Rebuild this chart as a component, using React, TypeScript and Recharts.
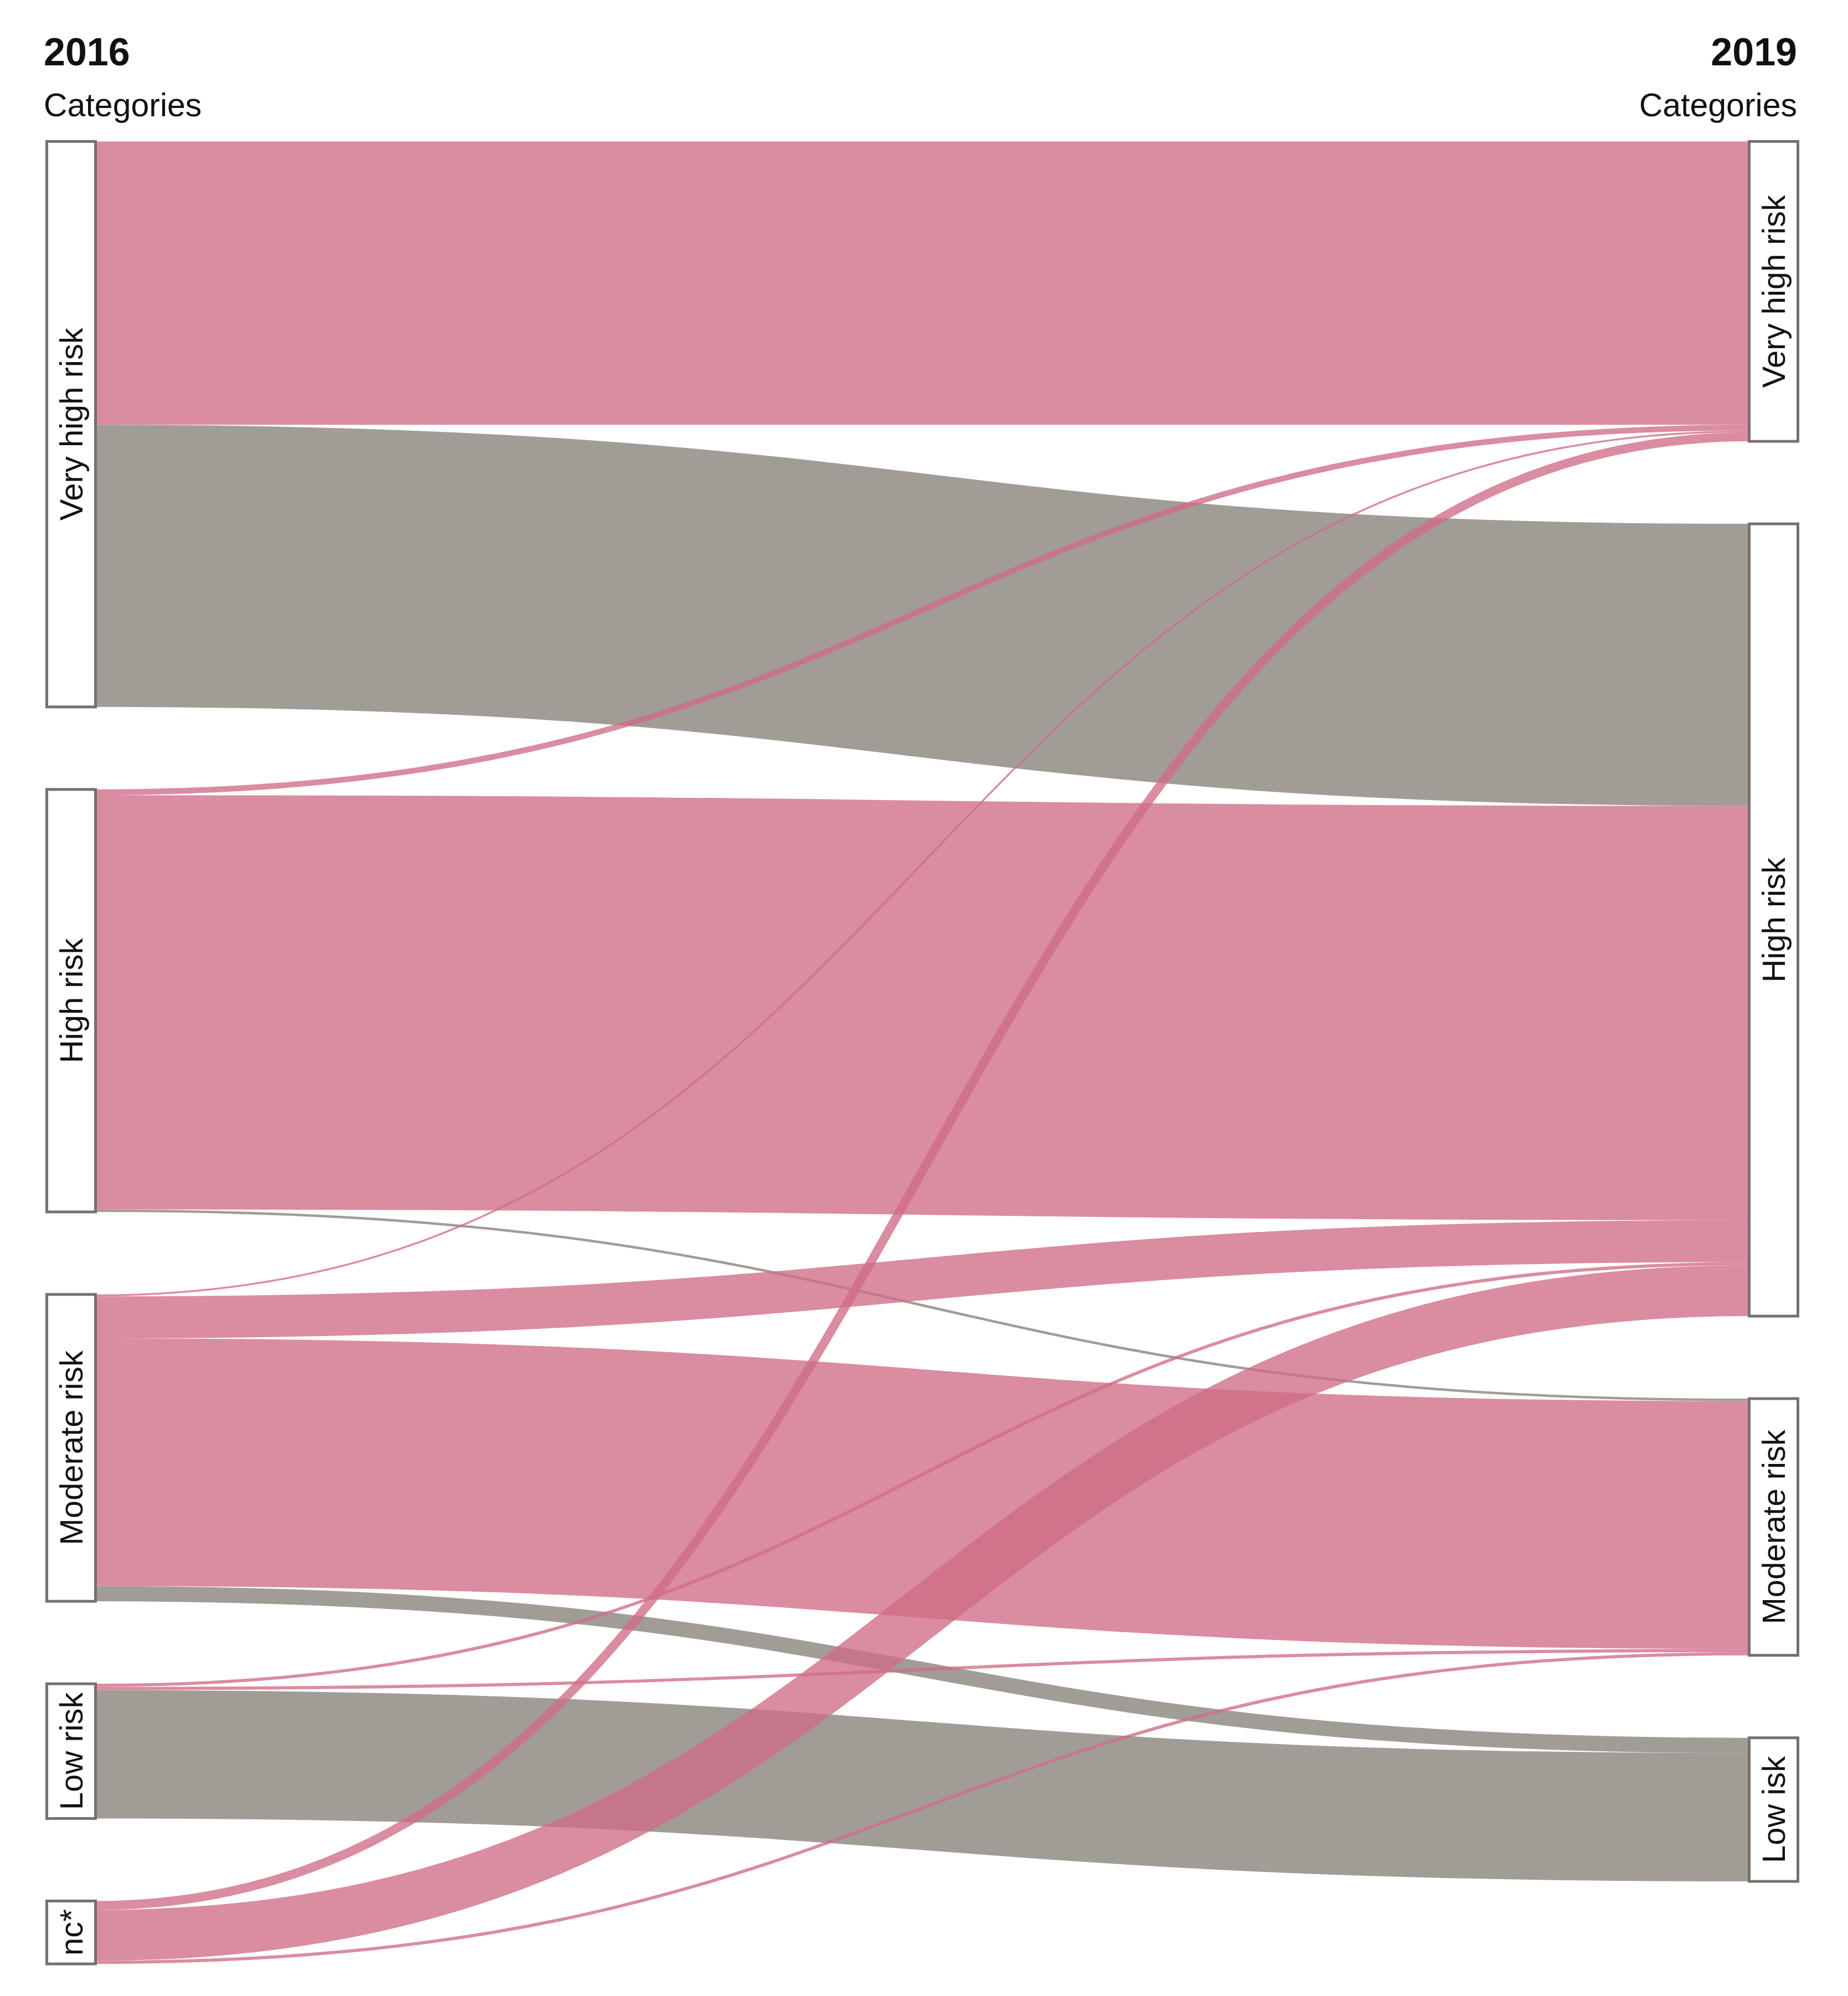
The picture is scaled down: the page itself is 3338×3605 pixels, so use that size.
import { Sankey } from "recharts";

const years = ["2016", "2019"];
const columnTitle = "Categories";
const categories2016 = ["Very high risk", "High risk", "Moderate risk", "Low risk", "nc*"];
const categories2019 = ["Very high risk", "High risk", "Moderate risk", "Low isk"];

// flows 2016 -> 2019, indexes into the two category lists
const flowFrom = [0, 0, 1, 1, 1, 2, 2, 2, 2, 3, 3, 3, 4, 4, 4];
const flowTo = [0, 1, 0, 1, 2, 0, 1, 2, 3, 1, 2, 3, 0, 1, 2];
const flowValue = [223, 222, 4.5, 326, 2, 1.5, 33, 195, 12, 2.5, 2.5, 101, 7, 40, 2.5];

const W = 3338;
const H = 3605;
const FONT = '"Liberation Sans", Arial, sans-serif';
const PINK = "rgb(208,108,134)";
const GREY = "rgb(136,128,122)";

const nodes = [
  ...categories2016.map((name) => ({ name })),
  ...categories2019.map((name) => ({ name })),
];
const links = flowFrom.map((s, i) => ({
  source: s,
  target: categories2016.length + flowTo[i],
  value: flowValue[i],
}));

// grey = moved to a lower risk class or stayed low, pink otherwise
const isGrey = (i: number) => {
  const s = flowFrom[i];
  const t = flowTo[i];
  return s < 4 && (t > s || t === 3);
};

function Flow(props: any) {
  const { sourceX, targetX, sourceY, targetY, sourceControlX, targetControlX, linkWidth, index } = props;
  return (
    <path
      d={`M${sourceX},${sourceY}C${sourceControlX},${sourceY} ${targetControlX},${targetY} ${targetX},${targetY}`}
      fill="none"
      stroke={isGrey(index) ? GREY : PINK}
      strokeOpacity={0.78}
      strokeWidth={linkWidth}
    />
  );
}

function Box(props: any) {
  const { x, y, width, height, payload } = props;
  const cx = x + width / 2;
  const cy = y + height / 2;
  return (
    <g>
      <rect x={x} y={y} width={width} height={height} fill="#fff" stroke="#76716d" strokeWidth={5} />
      <text
        x={cx}
        y={cy}
        transform={`rotate(-90 ${cx} ${cy})`}
        textAnchor="middle"
        dominantBaseline="central"
        fontFamily={FONT}
        fontSize={58}
        fill="#111"
      >
        {payload.name}
      </text>
    </g>
  );
}

export default function App() {
  return (
    <div style={{ position: "absolute", left: 0, top: 0, width: W, height: H, background: "#fff" }}>
      <Sankey
        width={W}
        height={H}
        data={{ nodes, links }}
        nodeWidth={88}
        nodePadding={149}
        iterations={0}
        margin={{ top: 255.5, left: 84.5, right: 90.5, bottom: 58 }}
        link={<Flow />}
        node={<Box />}
      />
      <svg
        width={W}
        height={H}
        style={{ position: "absolute", left: 0, top: 0, pointerEvents: "none" }}
        fontFamily={FONT}
        fill="#111"
      >
        <text x={79} y={118} fontSize={70} fontWeight="bold">{years[0]}</text>
        <text x={79} y={210} fontSize={59}>{columnTitle}</text>
        <text x={3246} y={118} fontSize={70} fontWeight="bold" textAnchor="end">{years[1]}</text>
        <text x={3246} y={210} fontSize={59} textAnchor="end">{columnTitle}</text>
      </svg>
    </div>
  );
}
